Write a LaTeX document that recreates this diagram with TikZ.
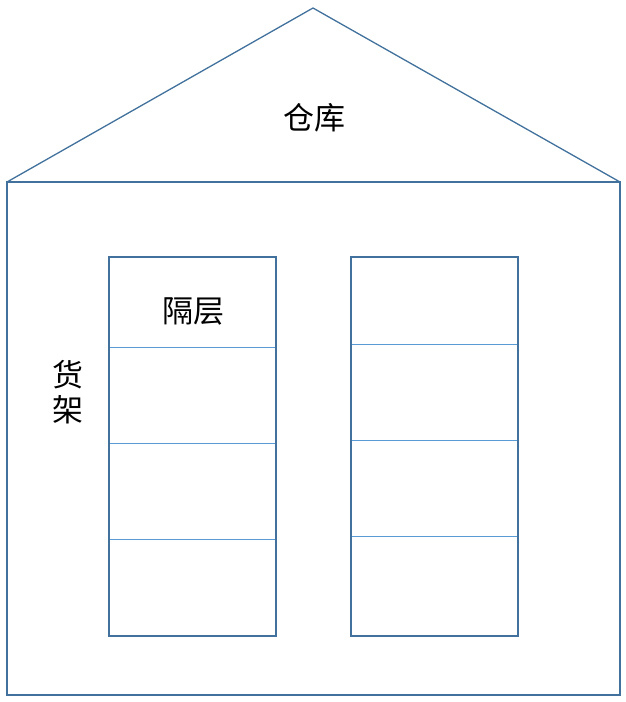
\documentclass[tikz,border=0pt]{standalone}
\usepackage{fontspec}
\newfontfamily\cjk{Noto Sans CJK SC}
\definecolor{frameblue}{HTML}{41719C}
\definecolor{shelfline}{HTML}{5B9BD5}
\begin{document}
\begin{tikzpicture}[x=1pt,y=-1pt]
  \tikzset{every node/.style={font=\cjk\fontsize{31}{36}\selectfont,inner sep=0pt},
    wall/.style={draw=frameblue,line width=2pt},
    roofline/.style={draw=frameblue,line width=1.3pt},
    layer/.style={draw=shelfline,line width=0.9pt}}
  \useasboundingbox (0,0) rectangle (626,702);

  \coordinate (apex)  at (313,8);
  \coordinate (eaveL) at (7,182);
  \coordinate (eaveR) at (620,182);
  \coordinate (base)  at (620,695);

  \node (store) at (314,118) {仓库};
  \node (layer) at (193,311) {隔层};
  \node (rackA) at (68,375)  {货};
  \node (rackB) at (68,410)  {架};

  \path[roofline] (eaveL) -- (apex) -- (eaveR);
  \path[wall] (eaveL) rectangle (base);

  % shelves
  \path[wall] (109,257) rectangle (276,636);
  \path[wall] (351,257) rectangle (518,636);
  \foreach \y in {347,443,539}
    \path[layer] (110,\y) -- (275,\y);
  \foreach \y in {344,440,536}
    \path[layer] (352,\y) -- (517,\y);
\end{tikzpicture}
\end{document}
